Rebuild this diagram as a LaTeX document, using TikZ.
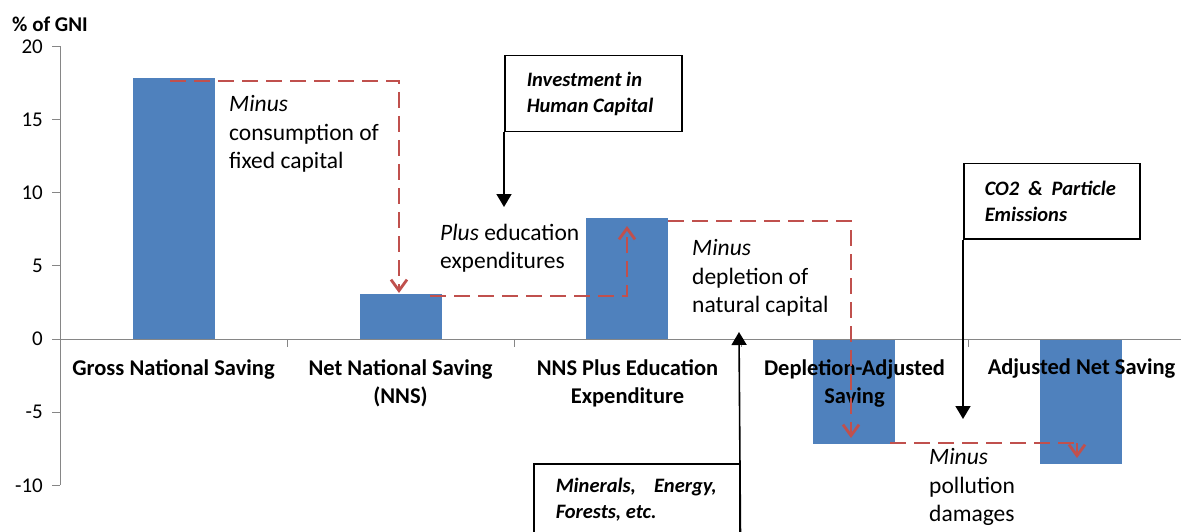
\documentclass[tikz,border=0pt]{standalone}
\usepackage{fontspec}
\setmainfont{Carlito}
\usetikzlibrary{arrows.meta}
\definecolor{barblue}{HTML}{4F81BD}
\definecolor{flowred}{HTML}{C0504D}
\definecolor{axisgray}{HTML}{868686}
\tikzset{
  bar/.style={fill=barblue, draw=none, inner sep=0pt, minimum width=82pt},
  flow/.style={draw=flowred, line width=2.8pt, dash pattern=on 16pt off 8pt},
  flowarrow/.style={flow, -{Straight Barb[length=11pt,width=16pt]}},
  srcbox/.style={draw=black, line width=1.5pt, fill=white, align=flush left, anchor=north west,
    inner ysep=0pt, font=\fontsize{20.5pt}{26pt}\selectfont\bfseries\itshape},
  feed/.style={draw=black, line width=1.6pt, -{Triangle[length=13pt,width=15pt]}},
  note/.style={align=left, anchor=west, inner sep=0pt, font=\fontsize{23.5pt}{28.5pt}\selectfont},
  catlab/.style={align=center, anchor=north, inner sep=0pt, font=\fontsize{22.5pt}{28pt}\selectfont\bfseries},
  ticklab/.style={anchor=east, inner sep=0pt, font=\fontsize{21pt}{24pt}\selectfont},
  axisline/.style={draw=axisgray, line width=1pt},
}
\begin{document}
\begin{tikzpicture}[x=1pt, y=-1pt]
\useasboundingbox (0,0) rectangle (1181,532);
\clip (0,0) rectangle (1181,532);
\fill[white] (0,0) rectangle (1181,532);

% title
\node[anchor=west, inner sep=0pt, font=\fontsize{21pt}{24pt}\selectfont\bfseries] (ytitle) at (12,24) {\% of GNI};

% bars
\node[bar, minimum height=260.4pt, anchor=south] (g) at (174,339) {};
\node[bar, minimum height=45pt, anchor=south] (n) at (400.5,339) {};
\node[bar, minimum height=121pt, anchor=south] (e) at (627,339) {};
\node[bar, minimum height=105pt, anchor=north] (d) at (854,339) {};
\node[bar, minimum height=125pt, anchor=north] (a) at (1081,339) {};

% axes
\draw[axisline] (60,46.4) -- (60,485.3);
\draw[axisline] (60,339) -- (1181,339);
\foreach \v/\yy in {20/46.4,15/119.6,10/192.7,5/265.9,0/339,-5/412.2,-10/485.3}{
  \draw[axisline] (52,\yy) -- (60,\yy);
  \node[ticklab] (t\v) at (43,\yy) {\v};
}
\foreach \xx in {287,514,741,968}{
  \draw[axisline] (\xx,339) -- (\xx,347);
}

% category labels
\node[catlab] (c1) at (173.5,359) {Gross National Saving};
\node[catlab] (c2) at (400.5,359) {Net National Saving\\(NNS)};
\node[catlab] (c3) at (627.5,359) {NNS Plus Education\\Expenditure};
\node[catlab] (c4) at (854.5,359) {Depletion-Adjusted\\Saving};
\node[catlab] (c5) at (1081.5,359) {Adjusted Net Saving};

% annotations
\node[note] (m1) at (229,134) {\textit{Minus}\\consumption of\\fixed capital};
\node[note] (p1) at (440,248) {\textit{Plus} education\\expenditures};
\node[note] (m2) at (692,278) {\textit{Minus}\\depletion of\\natural capital};
\node[note] (m3) at (929,487) {\textit{Minus}\\pollution\\damages};

% source boxes
\node[srcbox, text width=133pt, inner xsep=22pt, minimum height=76pt] (hc) at (504,55)
  {\mbox{Investment in}\\\mbox{Human Capital}};
\node[srcbox, text width=134pt, inner xsep=21pt, minimum height=75pt] (co) at (963,163)
  {\mbox{CO2\hspace{9pt}\&\hspace{9pt}Particle}\\\mbox{Emissions}};
\node[srcbox, text width=162pt, inner xsep=22pt, minimum height=72pt] (mi) at (533,463)
  {\mbox{Minerals,\hspace{18pt}Energy,}\\\mbox{Forests, etc.}};

% feed arrows
\coordinate (hctip) at (504,207);
\coordinate (cotip) at (963,419);
\coordinate (mitip) at (739,332);
\draw[feed] (hc.south west) -- (hctip);
\draw[feed] (co.south west) -- (cotip);
\draw[feed] (mi.south east) -- (mitip);

% red flows
\coordinate (f1s) at (170,81);
\coordinate (f1e) at (399,293);
\coordinate (f2s) at (430,296);
\coordinate (f2e) at (627,226);
\coordinate (f3s) at (668,221);
\coordinate (f3e) at (851,438);
\coordinate (f4s) at (890,443);
\coordinate (f4c) at (1077,443);
\coordinate (f4e) at (1077,458);
\draw[flowarrow] (f1s) -| (f1e);
\draw[flowarrow] (f2s) -| (f2e);
\draw[flowarrow] (f3s) -| (f3e);
\draw[flow] (f4s) -- (f4c);
\draw[flowred, line width=2.8pt, -{Straight Barb[length=11pt,width=16pt]}] (f4c) -- (f4e);
\end{tikzpicture}
\end{document}
